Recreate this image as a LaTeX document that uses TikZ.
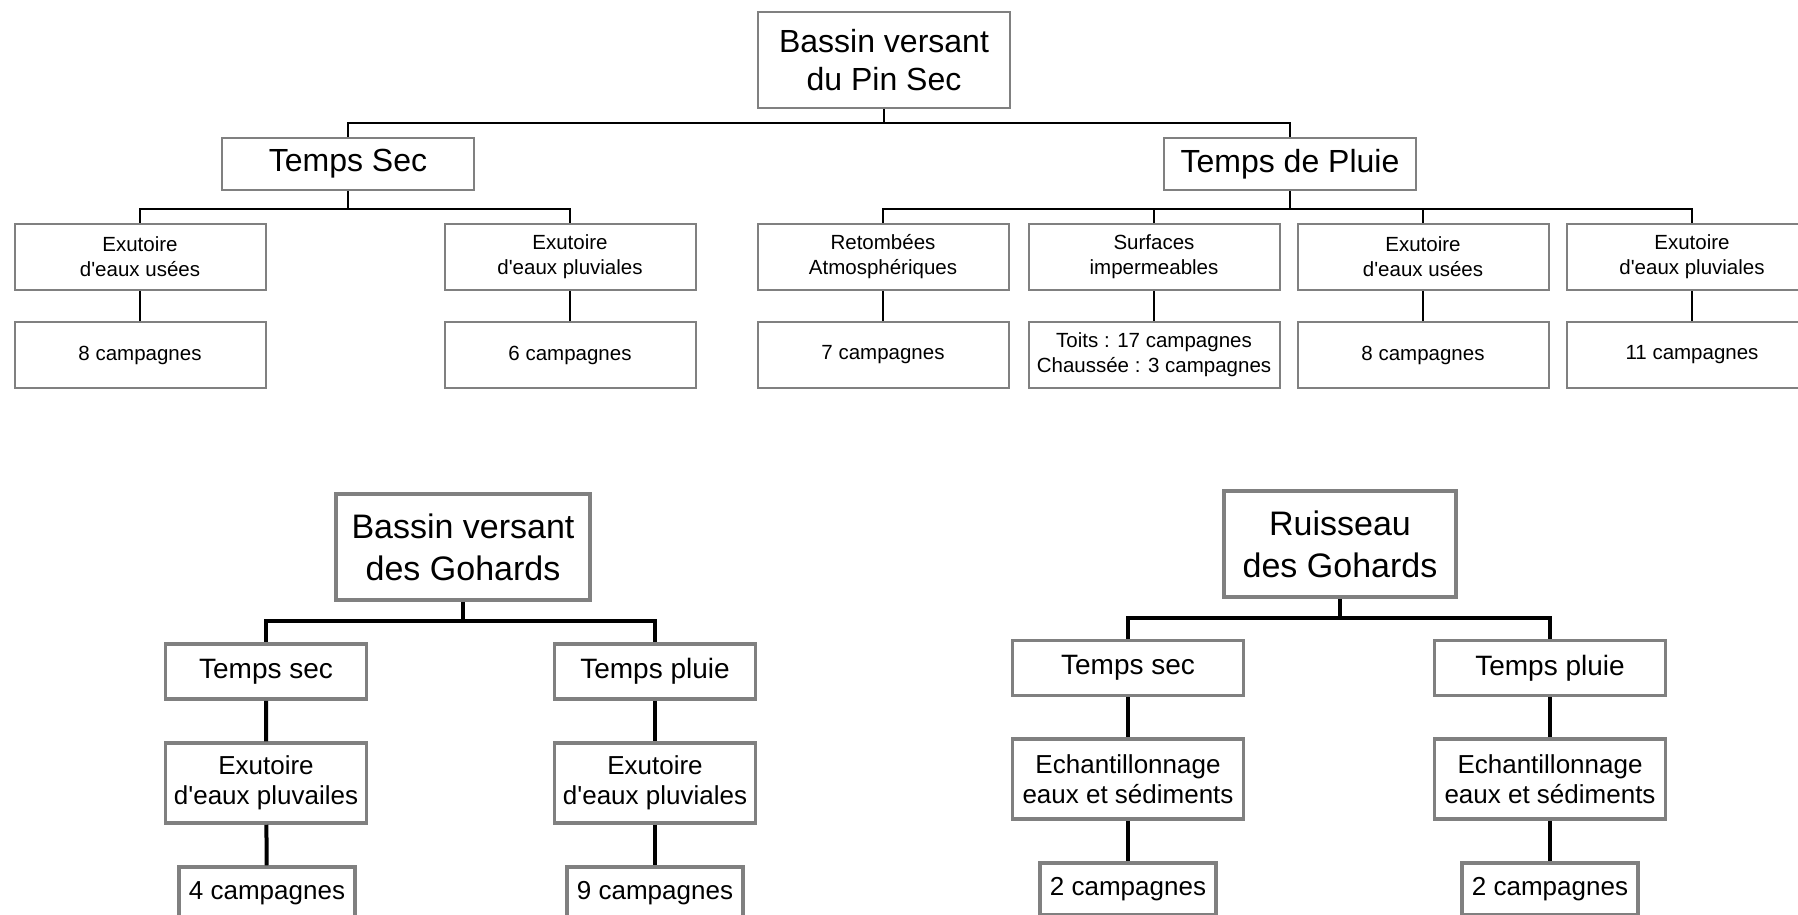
\documentclass[tikz,border=0pt]{standalone}
\usepackage{fontspec}
\setmainfont{Liberation Sans}[Ligatures=TeXOff]
\begin{document}
\begin{tikzpicture}[x = 0.5pt, y = -0.5pt,
    box/.style = {draw = gray, line width = 1pt, align = center, inner sep = 0pt},
    headbox/.style = {box, font = \fontsize{16}{19}\selectfont, minimum width = 126pt},
    leafbox/.style = {box, font = \fontsize{10.25}{12.5}\selectfont, minimum width = 125.5pt, minimum height = 33pt},
    gbox/.style = {draw = gray, line width = 1.75pt, align = center, inner sep = 0pt},
    groot/.style = {gbox, font = \fontsize{17}{21}\selectfont, minimum height = 53pt},
    gtemps/.style = {gbox, font = \fontsize{14}{17}\selectfont, minimum height = 27.5pt},
    gleaf/.style = {gbox, font = \fontsize{13}{15}\selectfont, minimum height = 40pt},
    gcount/.style = {gbox, font = \fontsize{13}{15}\selectfont, minimum width = 88pt, minimum height = 26pt},
    link/.style = {line width = 1.25pt},
    glink/.style = {line width = 2pt}]
  \useasboundingbox (0, 0) rectangle (1798, 915);

  % Pin Sec
  \node[headbox, minimum height = 48pt] (pinsec) at (884, 60) {Bassin versant\\du Pin Sec};
  \node[headbox, minimum height = 26pt] (sec) at (348, 164) {Temps Sec};
  \node[headbox, minimum height = 26pt] (pluie) at (1290, 164) {Temps de Pluie};

  \node[leafbox] (secusees) at (140, 257) {Exutoire\\d'eaux usées};
  \node[leafbox] (secpluv) at (570, 257) {Exutoire\\d'eaux pluviales};
  \node[leafbox] (retomb) at (883, 257) {Retombées\\Atmosphériques};
  \node[leafbox] (surf) at (1154, 257) {Surfaces\\impermeables};
  \node[leafbox] (plusees) at (1423, 257) {Exutoire\\d'eaux usées};
  \node[leafbox] (plupluv) at (1692, 257) {Exutoire\\d'eaux pluviales};

  \node[leafbox] (secuseesn) at (140, 355) {8 campagnes};
  \node[leafbox] (secpluvn) at (570, 355) {6 campagnes};
  \node[leafbox] (retombn) at (883, 355) {7 campagnes};
  \node[leafbox] (surfn) at (1154, 355) {Toits : 17 campagnes\\Chaussée : 3 campagnes};
  \node[leafbox] (pluseesn) at (1423, 355) {8 campagnes};
  \node[leafbox] (plupluvn) at (1692, 355) {11 campagnes};

  \coordinate (pinsecj) at (884, 123);
  \coordinate (secj) at (348, 209);
  \coordinate (pluiej) at (1290, 209);
  \draw[link] (pinsec) -- (pinsecj) -| (sec);
  \draw[link] (pinsecj) -| (pluie);
  \draw[link] (sec) -- (secj) -| (secusees);
  \draw[link] (secj) -| (secpluv);
  \draw[link] (pluie) -- (pluiej) -| (retomb);
  \draw[link] (pluiej) -| (plupluv);
  \draw[link] (pluiej) -| (surf);
  \draw[link] (pluiej) -| (plusees);
  \foreach \n in {secusees, secpluv, retomb, surf, plusees, plupluv}
    \draw[link] (\n) -- (\n n);

  % Gohards
  \node[groot, minimum width = 127pt] (gohards) at (463, 547) {Bassin versant\\des Gohards};
  \node[gtemps, minimum width = 100.5pt] (gsec) at (266, 671.5) {Temps sec};
  \node[gtemps, minimum width = 100.5pt] (gpluie) at (655, 671.5) {Temps pluie};
  \node[gleaf, minimum width = 100.5pt] (gsecex) at (266, 783) {Exutoire\\d'eaux pluvailes};
  \node[gleaf, minimum width = 100.5pt] (gpluieex) at (655, 783) {Exutoire\\d'eaux pluviales};
  \node[gcount] (gsecn) at (267, 893) {4 campagnes};
  \node[gcount] (gpluien) at (655, 893) {9 campagnes};

  \coordinate (gohardsj) at (463, 621);
  \draw[glink] (gohards) -- (gohardsj) -| (gsec);
  \draw[glink] (gohardsj) -| (gpluie);
  \draw[glink] (gsec) -- (gsecex) -- (gsecn);
  \draw[glink] (gpluie) -- (gpluieex) -- (gpluien);

  % Ruisseau
  \node[groot, minimum width = 116pt] (ruis) at (1340, 544) {Ruisseau\\des Gohards};
  \node[gtemps, minimum width = 115.5pt] (rsec) at (1128, 668) {Temps sec};
  \node[gtemps, minimum width = 115.5pt] (rpluie) at (1550, 668) {Temps pluie};
  \node[gleaf, minimum width = 115.5pt] (rsecech) at (1128, 779) {Echantillonnage\\eaux et sédiments};
  \node[gleaf, minimum width = 115.5pt] (rpluieech) at (1550, 779) {Echantillonnage\\eaux et sédiments};
  \node[gcount] (rsecn) at (1128, 889) {2 campagnes};
  \node[gcount] (rpluien) at (1550, 889) {2 campagnes};

  \coordinate (ruisj) at (1340, 618);
  \draw[glink] (ruis) -- (ruisj) -| (rsec);
  \draw[glink] (ruisj) -| (rpluie);
  \draw[glink] (rsec) -- (rsecech) -- (rsecn);
  \draw[glink] (rpluie) -- (rpluieech) -- (rpluien);
\end{tikzpicture}
\end{document}
